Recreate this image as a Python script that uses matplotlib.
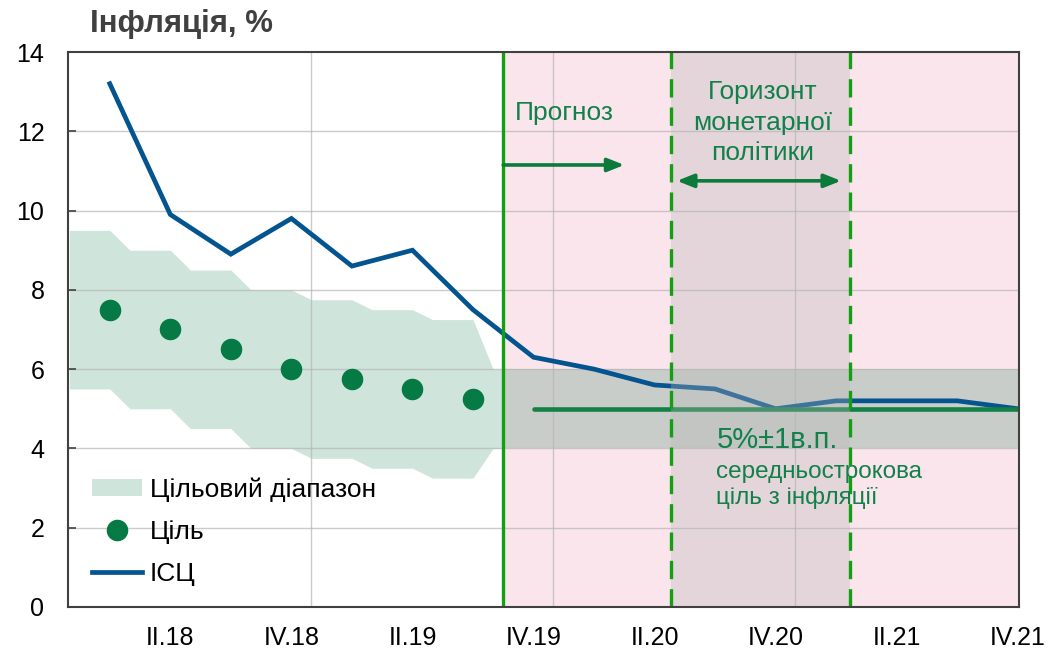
import matplotlib.pyplot as plt
from matplotlib.patches import Patch
from matplotlib.lines import Line2D

plt.rcParams['font.family'] = ['Liberation Sans', 'DejaVu Sans']

# quarters I.18 .. IV.21
quarters = ['I.18', 'II.18', 'III.18', 'IV.18', 'I.19', 'II.19', 'III.19', 'IV.19',
            'I.20', 'II.20', 'III.20', 'IV.20', 'I.21', 'II.21', 'III.21', 'IV.21']
cpi = [13.2, 9.9, 8.9, 9.8, 8.6, 9.0, 7.5, 6.3, 6.0, 5.6, 5.5, 5.0, 5.2, 5.2, 5.2, 5.0]
target = [7.5, 7.0, 6.5, 6.0, 5.75, 5.5, 5.25]
band_upper = [9.5, 9.0, 8.5, 8.0, 7.75, 7.5, 7.25, 6.0]
band_lower = [5.5, 5.0, 4.5, 4.0, 3.75, 3.5, 3.25, 4.0]
mid_target = 5.0
mid_band = (4.0, 6.0)
forecast_start = 6.5
horizon = (9.27, 12.23)

GREEN_TXT = '#11804a'
GREEN_DARK = '#0b7a3b'
GREEN_LINE = '#12a012'

fig = plt.figure(figsize=(10.61, 6.5), dpi=100)
ax = fig.add_axes([0.0641, 0.0662, 0.8963, 0.8538])

n = len(quarters)
x = list(range(n))
xmin, xmax = -0.69, 15.02

# forecast period background
ax.axvspan(forecast_start, xmax, color='#fbe5ec', zorder=0.1, lw=0)
ax.fill_between([forecast_start, xmax], mid_band[0], mid_band[1],
                color='#c9cdc9', zorder=0.2, lw=0)

# stepped target band
bx, bu, bl = [], [], []
for i in range(len(band_upper)):
    x0 = i - 2 / 3
    x1 = i if i < len(band_upper) - 1 else forecast_start
    bx += [x0, x1]
    bu += [band_upper[i]] * 2
    bl += [band_lower[i]] * 2
ax.fill_between(bx, bl, bu, color='#cfe5db', lw=0, zorder=0.3)

# grid
for gy in range(2, 14, 2):
    ax.axhline(gy, color='#b5b5b5', lw=1, alpha=0.7, zorder=0.5)
for gx in [3.32, 7.32, 11.32]:
    ax.axvline(gx, color='#b5b5b5', lw=1, alpha=0.7, zorder=0.5)

# series
ax.plot(x, cpi, color='#03548f', lw=3.4, zorder=3, solid_joinstyle='miter')
ax.plot(x[:len(target)], target, 'o', color='#067a44', ms=14.5, zorder=3)
ax.plot([7, 15], [mid_target, mid_target], color='#138046', lw=3.3,
        solid_capstyle='round', zorder=4)

# policy horizon shading (on top of the lines)
ax.axvspan(horizon[0], horizon[1], color='#b7b7b7', alpha=0.33, lw=0, zorder=5)

# vertical markers
ax.axvline(forecast_start, color=GREEN_LINE, lw=2.4, zorder=6)
for hx in horizon:
    ax.axvline(hx, color=GREEN_LINE, lw=2.4, ls=(0, (5.5, 3)), zorder=6)

# arrows
ax.annotate('', xy=(8.5, 11.15), xytext=(forecast_start, 11.15),
            arrowprops=dict(arrowstyle='-|>,head_length=1.0,head_width=0.4',
                            color=GREEN_DARK, lw=2.6, shrinkA=0, shrinkB=0),
            zorder=7)
ax.annotate('', xy=(12.08, 10.75), xytext=(9.37, 10.75),
            arrowprops=dict(arrowstyle='<|-|>,head_length=1.0,head_width=0.4',
                            color=GREEN_DARK, lw=2.6, shrinkA=0, shrinkB=0),
            zorder=7)

# texts
ax.text(6.7, 12.45, 'Прогноз', color=GREEN_TXT, fontsize=19, ha='left',
        va='center', zorder=8)
ax.text(10.78, 12.22, 'Горизонт\nмонетарної\nполітики', color=GREEN_TXT,
        fontsize=19, ha='center', va='center', linespacing=1.32, zorder=8)
ax.text(10.02, 4.22, '5%±1в.п.', color=GREEN_TXT, fontsize=21, ha='left',
        va='center', zorder=8)
ax.text(10.02, 3.07, 'середньострокова\nціль з інфляції', color=GREEN_TXT,
        fontsize=17.5, ha='left', va='center', linespacing=1.2, zorder=8)

ax.set_xlim(xmin, xmax)
ax.set_ylim(0, 14)
ax.set_yticks(range(0, 15, 2))
ax.set_xticks(x[1::2])
ax.set_xticklabels(quarters[1::2])
ax.tick_params(axis='y', direction='in', length=6, width=1.2, pad=17,
               labelsize=18, color='#404040')
ax.tick_params(axis='x', length=0, pad=14, labelsize=18)
for s in ax.spines.values():
    s.set_color('#404040')
    s.set_linewidth(1.5)
    s.set_zorder(9)

legend_handles = [
    Patch(facecolor='#cfe5db', edgecolor='none'),
    Line2D([], [], marker='o', ls='none', color='#067a44', ms=14.5),
    Line2D([], [], color='#03548f', lw=3.4),
]
ax.legend(legend_handles, ['Цільовий діапазон', 'Ціль', 'ІСЦ'],
          loc='lower left', bbox_to_anchor=(0.0, -0.005), frameon=False,
          fontsize=19, handlelength=1.9, handleheight=0.6, labelspacing=0.68,
          handletextpad=0.3)

fig.text(0.085, 0.963, 'Інфляція, %', fontsize=22.5, fontweight='bold',
         color='#404040', ha='left', va='center')

fig.savefig('out.png', dpi=100)
